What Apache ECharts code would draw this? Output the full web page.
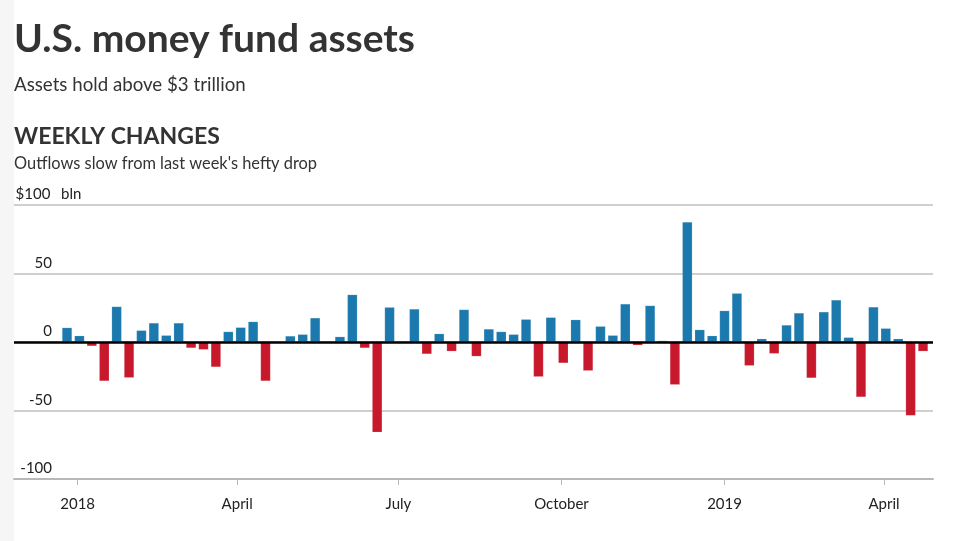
<!DOCTYPE html>
<html>
<head>
<meta charset="utf-8">
<script src="https://cdn.jsdelivr.net/npm/echarts@6/dist/echarts.min.js"></script>
<style>
html,body{margin:0;padding:0;}
body{background:linear-gradient(to right,#f6f6f6 14px,#ffffff 14px);}
#chart{width:955px;height:541px;}
</style>
</head>
<body>
<div id="chart"></div>
<script>
// Weekly dates (bar positions)
const weeks = [
 '2017-12-26','2018-01-02','2018-01-09','2018-01-16','2018-01-23','2018-01-30',
 '2018-02-06','2018-02-13','2018-02-20','2018-02-27','2018-03-06','2018-03-13',
 '2018-03-20','2018-03-27','2018-04-03','2018-04-10','2018-04-17','2018-04-24',
 '2018-05-01','2018-05-08','2018-05-15','2018-05-22','2018-05-29','2018-06-05',
 '2018-06-12','2018-06-19','2018-06-26','2018-07-03','2018-07-10','2018-07-17',
 '2018-07-24','2018-07-31','2018-08-07','2018-08-14','2018-08-21','2018-08-28',
 '2018-09-04','2018-09-11','2018-09-18','2018-09-25','2018-10-02','2018-10-09',
 '2018-10-16','2018-10-23','2018-10-30','2018-11-06','2018-11-13','2018-11-20',
 '2018-11-27','2018-12-04','2018-12-11','2018-12-18','2018-12-25','2019-01-01',
 '2019-01-08','2019-01-15','2019-01-22','2019-01-29','2019-02-05','2019-02-12',
 '2019-02-19','2019-02-26','2019-03-05','2019-03-12','2019-03-19','2019-03-26',
 '2019-04-02','2019-04-09','2019-04-16','2019-04-23'
];
// Weekly change, $ bln
const changes = [
 10.5, 4.6, -3, -28.5, 25.9, -26.1,
 8.5, 13.9, 4.9, 13.9, -4.4, -5.6,
 -18.3, 7.6, 10.7, 14.9, -28.5, 0,
 4.4, 5.6, 17.6, 0, 3.9, 34.6,
 -4.4, -65.9, 25.4, 0, 24.1, -8.8,
 6.1, -6.8, 23.7, -10.5, 9.5, 7.6,
 5.6, 16.6, -25.4, 18.0, -15.4, 16.3,
 -21.0, 11.5, 4.9, 27.8, -2.4, 26.6,
 1.0, -31.2, 87.6, 9.0, 4.6, 22.9,
 35.6, -17.3, 2.4, -8.5, 12.4, 21.2,
 -26.3, 22.0, 30.7, 3.4, -40.2, 25.6,
 10.0, 2.4, -53.7, -6.8
];
// X tick positions and labels
const tickDates = ['2018-01-01','2018-04-01','2018-07-01','2018-10-01','2019-01-01','2019-04-01'];
const tickLabels = ['2018','April','July','October','2019','April'];
// Y axis
const yMin = -100, yMax = 100, yStep = 50;

const FONT = 'Lato';
const BLUE = '#1b79ae', RED = '#c8182c';

const ts = s => { const p = s.split('-').map(Number); return Date.UTC(p[0], p[1]-1, p[2]); };
const tickTs = tickDates.map(ts);
const labelFor = {};
tickTs.forEach((t,i)=>{ labelFor[t] = tickLabels[i]; });

const data = weeks.map((d,i)=>[ts(d), changes[i]]);

const chart = echarts.init(document.getElementById('chart'), null, {renderer:'canvas'});
chart.setOption({
  animation: false,
  backgroundColor: 'transparent',
  textStyle: {fontFamily: FONT},
  title: [
    {text: 'U.S. money fund assets', left: 14, top: 20, padding: 0,
     textStyle: {fontFamily: FONT, fontSize: 39, fontWeight: 'bold', color: '#333'}},
    {text: 'Assets hold above $3 trillion', left: 14, top: 75, padding: 0,
     textStyle: {fontFamily: FONT, fontSize: 18.7, fontWeight: 'normal', color: '#333'}},
    {text: 'WEEKLY CHANGES', left: 14, top: 125, padding: 0,
     textStyle: {fontFamily: FONT, fontSize: 23, fontWeight: 'bold', color: '#333'}},
    {text: "Outflows slow from last week's hefty drop", left: 14, top: 156, padding: 0,
     textStyle: {fontFamily: FONT, fontSize: 16.4, fontWeight: 'normal', color: '#333'}}
  ],
  grid: {left: 14, right: 22, top: 205, bottom: 62, containLabel: false},
  xAxis: {
    type: 'value',
    min: Date.UTC(2017,10,26,2),
    max: Date.UTC(2019,3,28,15),
    axisLine: {show: true, onZero: false, lineStyle: {color: '#b8b8b8', width: 2}},
    axisTick: {show: true, customValues: tickTs, length: 6, lineStyle: {color: '#b8b8b8', width: 1}},
    axisLabel: {
      customValues: tickTs, margin: 18, fontSize: 15, color: '#222', fontFamily: FONT,
      formatter: v => labelFor[v] || ''
    },
    splitLine: {show: false}
  },
  yAxis: {
    type: 'value', min: yMin, max: yMax, interval: yStep,
    axisLine: {show: false}, axisTick: {show: false},
    splitLine: {show: true, lineStyle: {color: '#cfcfcf', width: 2}},
    axisLabel: {
      inside: true, margin: 0, align: 'left', verticalAlign: 'bottom',
      padding: [0,0,3,0],
      formatter: v => v === yMax ? '{n|$' + v + '}{u|bln}' : '{n|' + v + '}',
      rich: {
        n: {width: 38, align: 'right', fontSize: 15, color: '#222', fontFamily: FONT},
        u: {padding: [0,0,0,9], fontSize: 15, color: '#222', fontFamily: FONT}
      }
    }
  },
  series: [{
    type: 'bar',
    data: data,
    barWidth: 10,
    itemStyle: {
      color: p => p.value[1] >= 0 ? BLUE : RED,
      borderColor: 'rgba(255,255,255,0.3)', borderWidth: 0.5
    },
    markLine: {
      silent: true, symbol: 'none', label: {show: false},
      lineStyle: {color: '#000', width: 2.5, type: 'solid'},
      data: [{yAxis: 0}]
    }
  }]
});
</script>
</body>
</html>
